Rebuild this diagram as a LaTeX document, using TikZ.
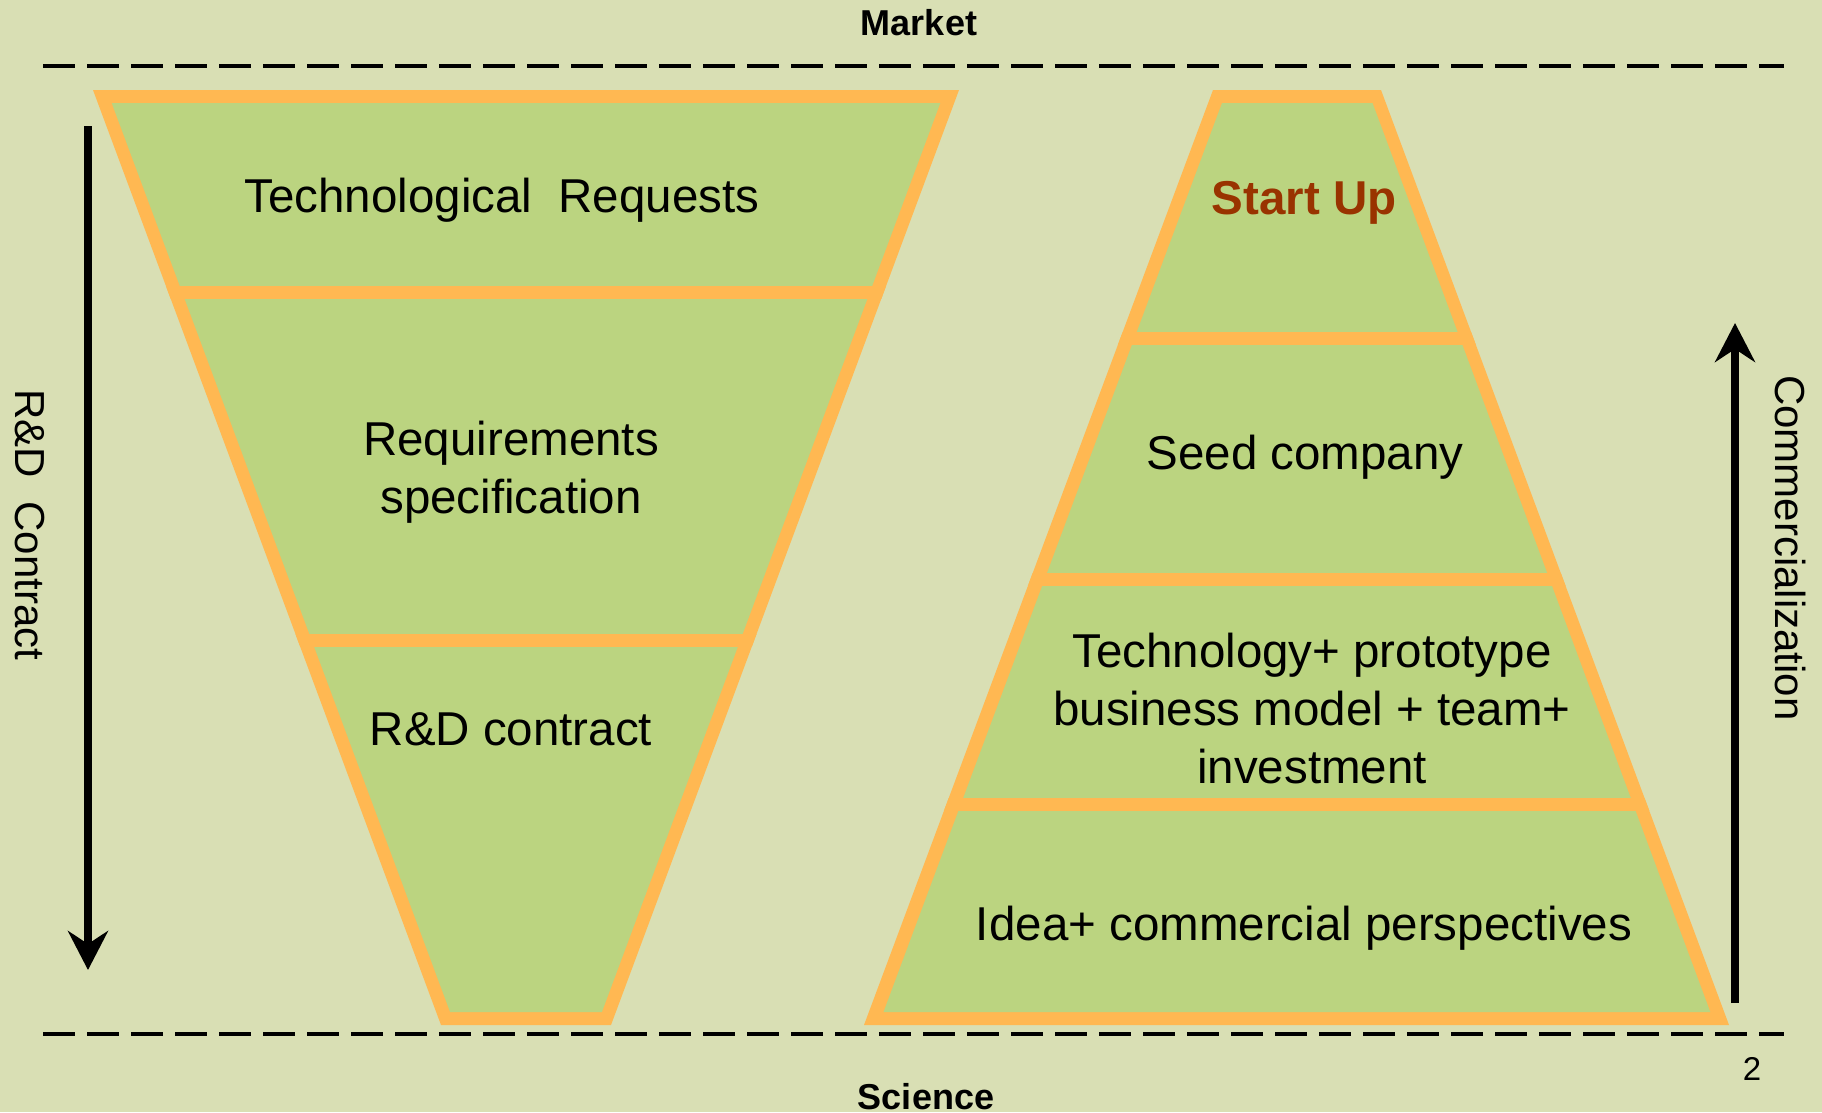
\documentclass[tikz,border=0pt]{standalone}
\usepackage{fontspec}
\setmainfont{Liberation Sans}
\usetikzlibrary{arrows.meta}
\definecolor{bgc}{RGB}{217,223,180}
\definecolor{fillg}{RGB}{187,212,128}
\definecolor{bord}{RGB}{255,184,82}
\definecolor{startc}{RGB}{153,51,0}
\begin{document}
\begin{tikzpicture}[x=1pt,y=-1pt,
  lbl/.style={font=\fontsize{47.5}{58}\selectfont, align=center, inner sep=0pt},
  sidelbl/.style={font=\fontsize{42}{50}\selectfont, inner sep=0pt, rotate=-90},
  edgelbl/.style={font=\bfseries\fontsize{36}{42}\selectfont, inner sep=0pt},
  dashline/.style={line width=4pt, dash pattern=on 32pt off 12pt},
  divider/.style={draw=bord, line width=13pt},
  arr/.style={line width=8pt, -{Stealth[length=39pt,width=40pt,inset=13pt]}}]
\useasboundingbox (0,0) rectangle (1822,1112);
\fill[bgc] (0,0) rectangle (1822,1112);
% dashed boundaries
\coordinate (tl) at (43,66); \coordinate (tr) at (1784,66);
\coordinate (bl) at (43,1034); \coordinate (br) at (1784,1034);
\draw[dashline] (tl) -- (tr);
\draw[dashline] (bl) -- (br);
% left inverted trapezoid
\fill[bord] (93,90) -- (959,90) -- (611,1025) -- (441,1025) -- cycle;
\fill[fillg] (111.7,103) -- (940.3,103) -- (601.9,1012) -- (450.1,1012) -- cycle;
\begin{scope}
\clip (93,90) -- (959,90) -- (611,1025) -- (441,1025) -- cycle;
\draw[divider] (80,292.5) -- (980,292.5);
\draw[divider] (80,640) -- (980,640);
\end{scope}
% right trapezoid
\fill[bord] (1213,90) -- (1381,90) -- (1729,1025) -- (864,1025) -- cycle;
\fill[fillg] (1222,103) -- (1372.5,103) -- (1710.3,1012) -- (883.5,1012) -- cycle;
\begin{scope}
\clip (1213,90) -- (1381,90) -- (1729,1025) -- (864,1025) -- cycle;
\draw[divider] (850,338) -- (1750,338);
\draw[divider] (850,579) -- (1750,579);
\draw[divider] (850,804) -- (1750,804);
\end{scope}
% labels
\node[lbl] (treq) at (502,200) {Technological\ \ Requests};
\node[lbl] (rspec) at (511,472) {Requirements\\specification};
\node[lbl] (rdc) at (511,729) {R\&D contract};
\node[lbl, font=\bfseries\fontsize{47.5}{58}\selectfont, text=startc] (start) at (1304,203) {Start Up};
\node[lbl] (seed) at (1305,457) {Seed company};
\node[lbl] (tech) at (1312,709) {Technology+ prototype\\business model + team+\\investment};
\node[lbl] (idea) at (1304,928) {Idea+ commercial perspectives};
\node[edgelbl] (market) at (919,23) {Market};
\node[edgelbl] (science) at (926,1097) {Science};
\node[inner sep=0pt, font=\fontsize{33}{38}\selectfont] (pg) at (1752,1069) {2};
\node[sidelbl] (rdlbl) at (30,525) {R\&D\ \ Contract};
\node[sidelbl] (comlbl) at (1790,548) {Commercialization};
% arrows
\coordinate (a1s) at (88,126); \coordinate (a1e) at (88,970);
\coordinate (a2s) at (1735,1003); \coordinate (a2e) at (1735,323);
\draw[arr] (a1s) -- (a1e);
\draw[arr] (a2s) -- (a2e);
\end{tikzpicture}
\end{document}
